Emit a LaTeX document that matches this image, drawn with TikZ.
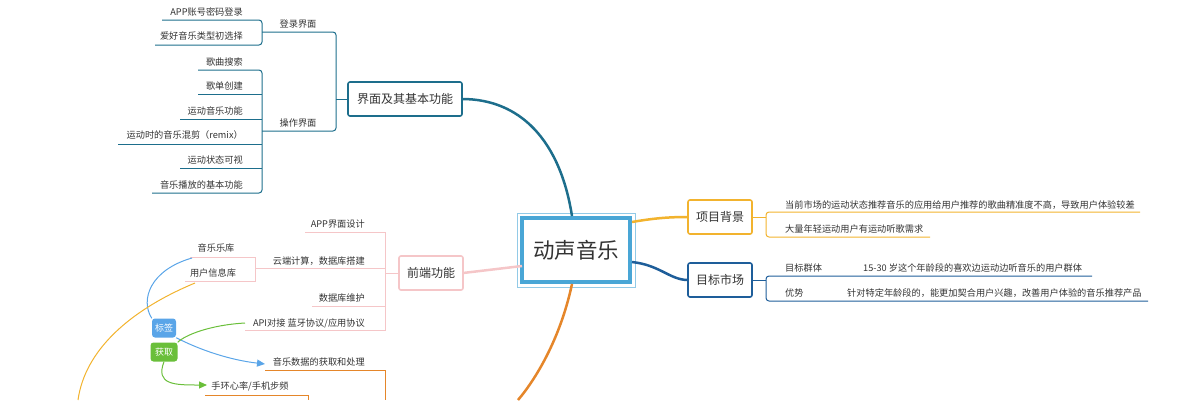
\documentclass[tikz,border=0pt]{standalone}
\usepackage{fontspec}
\setmainfont{Noto Sans CJK SC}
\usetikzlibrary{arrows.meta}
\definecolor{teal}{HTML}{1D6E8C}
\definecolor{pinkc}{HTML}{F5C6C8}
\definecolor{orgY}{HTML}{F2B32E}
\definecolor{navy}{HTML}{1E5E9A}
\definecolor{orgB}{HTML}{E5862A}
\definecolor{cblue}{HTML}{49A6D6}
\definecolor{tagb}{HTML}{5AA5E8}
\definecolor{tagg}{HTML}{6ABF3A}
\definecolor{txt}{HTML}{333333}
\tikzset{
 lbl/.style={font=\fontsize{9.2}{10}\selectfont, text=txt, inner sep=1pt},
 box/.style={draw, rounded corners=2pt, line width=1.6pt, fill=white, font=\fontsize{12}{14}\selectfont, text=txt, inner sep=0pt},
 tag/.style={rounded corners=3pt, text=white, font=\fontsize{9}{10}\selectfont, inner sep=0pt}
}
\begin{document}
\begin{tikzpicture}[x=1pt,y=-1pt]
\useasboundingbox (0,0) rectangle (1193,400);
% center
\draw[cblue!60, line width=0.6pt] (517,213) rectangle (635,287);
\node[draw=cblue, line width=3.5pt, fill=white, minimum width=108pt, minimum height=64pt, inner sep=0pt, font=\fontsize{21.5}{24}\selectfont, text=txt] (c) at (576,250) {动声音乐};
% top-left branch
\draw[teal, line width=2.5pt] (572,216) .. controls (560,140) and (520,99) .. (462,99);
\node[box, draw=teal, minimum width=114pt, minimum height=34pt] (b1) at (405,99) {界面及其基本功能};
\draw[teal, line width=1pt] (348,99) -- (336,99);
\draw[teal,line width=1pt,rounded corners=3pt] (262,32)--(336,32)--(336,99)--(336,131)--(262,131);
\node[lbl] (l1) at (298,24) {登录界面};
\node[lbl] (l2) at (298,123) {操作界面};
\draw[teal,line width=1pt,rounded corners=3pt] (162,20)--(262,20)--(262,45)--(155,45);
\node[lbl, anchor=east] at (244,12) {APP账号密码登录};
\node[lbl, anchor=east] at (244,36) {爱好音乐类型初选择};
\draw[teal,line width=1pt,rounded corners=3pt] (198,70)--(262,70)--(262,193)--(152,193);
\foreach \y/\a in {94/198,119/180,144/118,168/180}{\draw[teal,line width=1pt] (\a,\y)--(262,\y);}
\node[lbl, anchor=east] at (244,62) {歌曲搜索};
\node[lbl, anchor=east] at (244,86) {歌单创建};
\node[lbl, anchor=east] at (244,111) {运动音乐功能};
\node[lbl, anchor=east] at (244,135) {运动时的音乐混剪（remix）};
\node[lbl, anchor=east] at (244,160) {运动状态可视};
\node[lbl, anchor=east] at (244,185) {音乐播放的基本功能};
% front end branch
\draw[pinkc, line width=2.5pt] (463,273) -- (522,266);
\node[box, draw=pinkc, minimum width=64pt, minimum height=34pt] (b2) at (431,273) {前端功能};
\draw[pinkc,line width=1pt] (398,273)--(385,273);
\draw[pinkc,line width=1pt] (305,232)--(385,232)--(385,330)--(245,330);
\draw[pinkc,line width=1pt] (255,268)--(385,268) (312,306)--(385,306);
\node[lbl, anchor=east] at (366,224) {APP界面设计};
\node[lbl, anchor=east] at (366,261) {云端计算，数据库搭建};
\node[lbl, anchor=east] at (366,298) {数据库维护};
\node[lbl, anchor=east] at (366,323) {API对接 蓝牙协议/应用协议};
\draw[pinkc,line width=1pt] (190,257)--(255,257)--(255,281)--(185,281);
\node[lbl] at (216,248) {音乐乐库};
\node[lbl] at (213,273) {用户信息库};
% tags
\node[tag, fill=tagb, minimum width=24pt, minimum height=19pt] (t1) at (164,328) {标签};
\node[tag, fill=tagg, minimum width=27pt, minimum height=19pt] (t2) at (164,352) {获取};
\draw[tagb, line width=1pt] (192,258) .. controls (150,270) and (140,300) .. (t1.north west);
\draw[tagb, line width=1pt, -{Triangle[length=8pt,width=7pt]}] (t1.south east) .. controls (200,350) and (230,360) .. (265,364);
\draw[tagg, line width=1pt] (245,323) .. controls (210,325) and (185,335) .. (t2.north east);
\draw[tagg, line width=1pt, -{Triangle[length=8pt,width=7pt]}] (t2.south) .. controls (155,385) and (175,385) .. (207,385);
\draw[orgY, line width=1pt] (195,283) .. controls (130,310) and (85,350) .. (78,400);
% bottom
\draw[orgB,line width=1pt] (265,370)--(385,370)--(385,400);
\node[lbl, anchor=east] at (366,362) {音乐数据的获取和处理};
\draw[orgB,line width=1pt] (205,395)--(308,395)--(308,400);
\node[lbl] at (250,386) {手环心率/手机步频};
\draw[orgB, line width=2.5pt] (572,284) .. controls (560,340) and (535,380) .. (518,400);
% right
\draw[orgY, line width=2.5pt] (632,222) .. controls (655,218) and (670,217) .. (688,217);
\node[box, draw=orgY, minimum width=64pt, minimum height=34pt] (b3) at (720,217) {项目背景};
\draw[orgY,line width=1pt] (752,217)--(766,217);
\draw[orgY,line width=1pt,rounded corners=3pt] (1140,212)--(766,212)--(766,237)--(930,237);
\node[lbl, anchor=west] at (784,205) {当前市场的运动状态推荐音乐的应用给用户推荐的歌曲精准度不高，导致用户体验较差};
\node[lbl, anchor=west] at (784,229) {大量年轻运动用户有运动听歌需求};
\draw[navy, line width=2.5pt] (632,262) .. controls (660,265) and (670,280) .. (688,280);
\node[box, draw=navy, minimum width=64pt, minimum height=34pt] (b4) at (720,280) {目标市场};
\draw[navy,line width=1pt] (752,280)--(766,280);
\draw[navy,line width=1pt,rounded corners=3pt] (1092,276)--(766,276)--(766,301)--(1148,301);
\node[lbl, anchor=west] at (784,268) {目标群体};
\node[lbl, anchor=west] at (862,268) {15-30 岁这个年龄段的喜欢边运动边听音乐的用户群体};
\node[lbl, anchor=west] at (784,293) {优势};
\node[lbl, anchor=west] at (846,293) {针对特定年龄段的，能更加契合用户兴趣，改善用户体验的音乐推荐产品};
\end{tikzpicture}
\end{document}
